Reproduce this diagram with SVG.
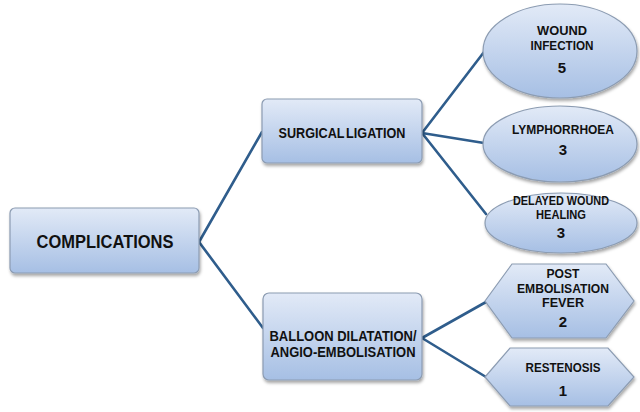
<svg xmlns="http://www.w3.org/2000/svg" width="640" height="412" viewBox="0 0 640 412">
<defs>
<linearGradient id="g" x1="0" y1="0" x2="0" y2="1">
<stop offset="0" stop-color="#e2eaf7"/>
<stop offset="1" stop-color="#a6bfe4"/>
</linearGradient>
<filter id="sh" x="-10%" y="-10%" width="130%" height="140%">
<feDropShadow dx="1" dy="2.5" stdDeviation="1.5" flood-color="#000" flood-opacity="0.35"/>
</filter>
</defs>
<style>
.n{fill:url(#g);stroke:#8c9cb2;stroke-width:1.2;filter:url(#sh)}
.t{font-family:"Liberation Sans",Arial,sans-serif;font-weight:bold;fill:#111;text-anchor:middle}
.c{stroke:#2f5d8c;stroke-width:2.6;fill:none;stroke-linecap:round}
</style>
<rect width="640" height="412" fill="#fff"/>
<g id="connectors">
<line class="c" x1="199" y1="242" x2="262" y2="132"/>
<line class="c" x1="199" y1="242" x2="263" y2="328"/>
<line class="c" x1="422" y1="133" x2="484" y2="52"/>
<line class="c" x1="422" y1="133" x2="484" y2="143"/>
<line class="c" x1="422" y1="133" x2="486" y2="214"/>
<line class="c" x1="422" y1="338" x2="486" y2="302"/>
<line class="c" x1="422" y1="338" x2="486" y2="377"/>
</g>
<g id="complications">
<rect class="n" x="10" y="208" width="189" height="65" rx="5"/>
<text class="t" x="105" y="248" font-size="18" textLength="137" lengthAdjust="spacingAndGlyphs">COMPLICATIONS</text>
</g>
<g id="surgical">
<rect class="n" x="262" y="99" width="160" height="64" rx="5"/>
<text class="t" x="342" y="138" font-size="15" word-spacing="-2" textLength="127" lengthAdjust="spacingAndGlyphs">SURGICAL LIGATION</text>
</g>
<g id="balloon">
<rect class="n" x="263" y="293" width="159" height="87" rx="6"/>
<text class="t" x="343" y="341" font-size="14" textLength="147" lengthAdjust="spacingAndGlyphs">BALLOON DILATATION/</text>
<text class="t" x="343" y="357" font-size="14" textLength="145" lengthAdjust="spacingAndGlyphs">ANGIO-EMBOLISATION</text>
</g>
<g id="wound-infection">
<ellipse class="n" cx="560" cy="51" rx="77" ry="47"/>
<text class="t" x="562" y="35" font-size="13" textLength="50" lengthAdjust="spacingAndGlyphs">WOUND</text>
<text class="t" x="562" y="50" font-size="13" textLength="63" lengthAdjust="spacingAndGlyphs">INFECTION</text>
<text class="t" x="562" y="73" font-size="15">5</text>
</g>
<g id="lymphorrhoea">
<ellipse class="n" cx="560" cy="144" rx="77" ry="38"/>
<text class="t" x="563" y="134" font-size="13" textLength="102" lengthAdjust="spacingAndGlyphs">LYMPHORRHOEA</text>
<text class="t" x="563" y="155" font-size="15">3</text>
</g>
<g id="delayed-wound-healing">
<ellipse class="n" cx="561" cy="223" rx="76" ry="30"/>
<text class="t" x="561" y="205" font-size="13" textLength="96" lengthAdjust="spacingAndGlyphs">DELAYED WOUND</text>
<text class="t" x="561" y="219" font-size="13" textLength="50" lengthAdjust="spacingAndGlyphs">HEALING</text>
<text class="t" x="561" y="238" font-size="15">3</text>
</g>
<g id="post-embolisation-fever">
<polygon class="n" points="485,301 512,264 606,264 634,301 606,338 512,338"/>
<text class="t" x="563" y="278" font-size="13" textLength="33" lengthAdjust="spacingAndGlyphs">POST</text>
<text class="t" x="563" y="293" font-size="13" textLength="92" lengthAdjust="spacingAndGlyphs">EMBOLISATION</text>
<text class="t" x="563" y="307" font-size="13" textLength="42" lengthAdjust="spacingAndGlyphs">FEVER</text>
<text class="t" x="563" y="327" font-size="15">2</text>
</g>
<g id="restenosis">
<polygon class="n" points="485,377 510,348 608,348 634,377 608,406 510,406"/>
<text class="t" x="563" y="372" font-size="13" textLength="75" lengthAdjust="spacingAndGlyphs">RESTENOSIS</text>
<text class="t" x="563" y="396" font-size="15">1</text>
</g>
</svg>
